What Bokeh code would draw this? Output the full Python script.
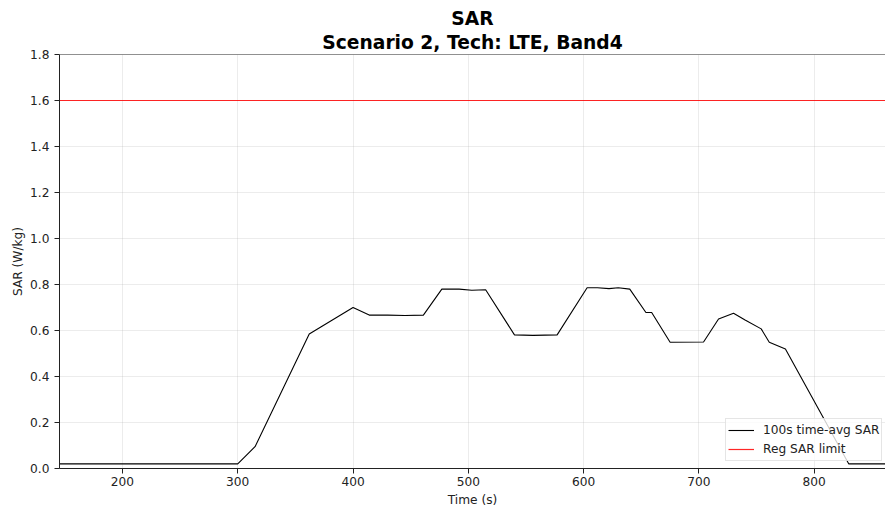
from bokeh.plotting import figure
from bokeh.models import (Range1d, FixedTicker, PrintfTickFormatter, Legend, LegendItem,
                          Title, Span)
from bokeh.embed import file_html
from bokeh.resources import INLINE

# ---- data ----
time_s = [145, 300, 315, 362, 400, 414, 430, 445, 461, 477, 492, 503, 515, 540, 556, 577,
          603, 612, 622, 630, 640, 654, 659, 675, 704, 717, 730, 740, 754, 761, 775, 830, 862]
sar_avg = [0.02, 0.02, 0.095, 0.585, 0.70, 0.667, 0.667, 0.665, 0.667, 0.78, 0.78, 0.775,
           0.777, 0.581, 0.579, 0.581, 0.786, 0.786, 0.782, 0.786, 0.78, 0.678, 0.678, 0.549,
           0.55, 0.65, 0.675, 0.646, 0.607, 0.549, 0.52, 0.02, 0.02]
sar_limit = 1.6
limit_time = [time_s[0], time_s[-1]]
x_ticks = [200, 300, 400, 500, 600, 700, 800]
y_ticks = [0.0, 0.2, 0.4, 0.6, 0.8, 1.0, 1.2, 1.4, 1.6, 1.8]
title_main = "SAR"
title_sub = "Scenario 2, Tech: LTE, Band4"
series_labels = ["100s time-avg SAR", "Reg SAR limit"]

FONT = "DejaVu Sans"
FS = "12.2px"

p = figure(width=885, height=509, output_backend="svg", toolbar_location=None,
           x_range=Range1d(145.4, 861.8), y_range=Range1d(0.0, 1.8),
           min_border_left=59, min_border_right=0, min_border_top=54, min_border_bottom=40)
p.title = None
p.outline_line_color = None
p.background_fill_color = "white"
p.border_fill_color = "white"

t_sub = Title(text=title_sub, align="center", text_font=FONT, text_font_size="18.7px",
              text_font_style="bold", text_color="black", standoff=3, offset=2)
t_main = Title(text=title_main, align="center", text_font=FONT, text_font_size="18.7px",
               text_font_style="bold", text_color="black", standoff=0, offset=2)
p.add_layout(t_sub, "above")
p.add_layout(t_main, "above")

# top spine
p.add_layout(Span(location=1.8, dimension="width", line_color="#222222", line_width=1))

r_avg = p.line(time_s, sar_avg, line_color="black", line_width=1.1)
r_lim = p.line(limit_time, [sar_limit, sar_limit], line_color="red", line_alpha=0.85, line_width=1.2)

for ax in (p.xaxis[0], p.yaxis[0]):
    ax.axis_line_color = "#222222"
    ax.major_tick_line_color = "#222222"
    ax.major_tick_in = 0
    ax.major_tick_out = 5
    ax.minor_tick_line_color = None
    ax.major_label_text_font = FONT
    ax.major_label_text_font_size = FS
    ax.major_label_text_color = "#222222"
    ax.axis_label_text_font = FONT
    ax.axis_label_text_font_size = FS
    ax.axis_label_text_font_style = "normal"
    ax.axis_label_text_color = "#222222"

p.xaxis[0].ticker = FixedTicker(ticks=x_ticks)
p.yaxis[0].ticker = FixedTicker(ticks=y_ticks)
p.yaxis[0].formatter = PrintfTickFormatter(format="%.1f")
p.xaxis[0].axis_label = "Time (s)"
p.yaxis[0].axis_label = "SAR (W/kg)"
p.xaxis[0].major_label_standoff = 3
p.xaxis[0].axis_label_standoff = 4
p.yaxis[0].major_label_standoff = 5
p.yaxis[0].axis_label_standoff = 2

p.grid.grid_line_color = "#b0b0b0"
p.grid.grid_line_alpha = 0.3
p.grid.grid_line_width = 0.8

legend = Legend(items=[LegendItem(label=series_labels[0], renderers=[r_avg]),
                       LegendItem(label=series_labels[1], renderers=[r_lim])],
                location=(666, 7))
legend.label_text_font = FONT
legend.label_text_font_size = FS
legend.label_text_color = "#222222"
legend.glyph_width = 26
legend.glyph_height = 18
legend.label_height = 18
legend.label_standoff = 9
legend.padding = 2
legend.spacing = 1
legend.margin = 0
legend.border_line_color = "#cccccc"
legend.background_fill_alpha = 0.8
p.add_layout(legend, "center")

open("out.html", "w").write(file_html(p, INLINE))
